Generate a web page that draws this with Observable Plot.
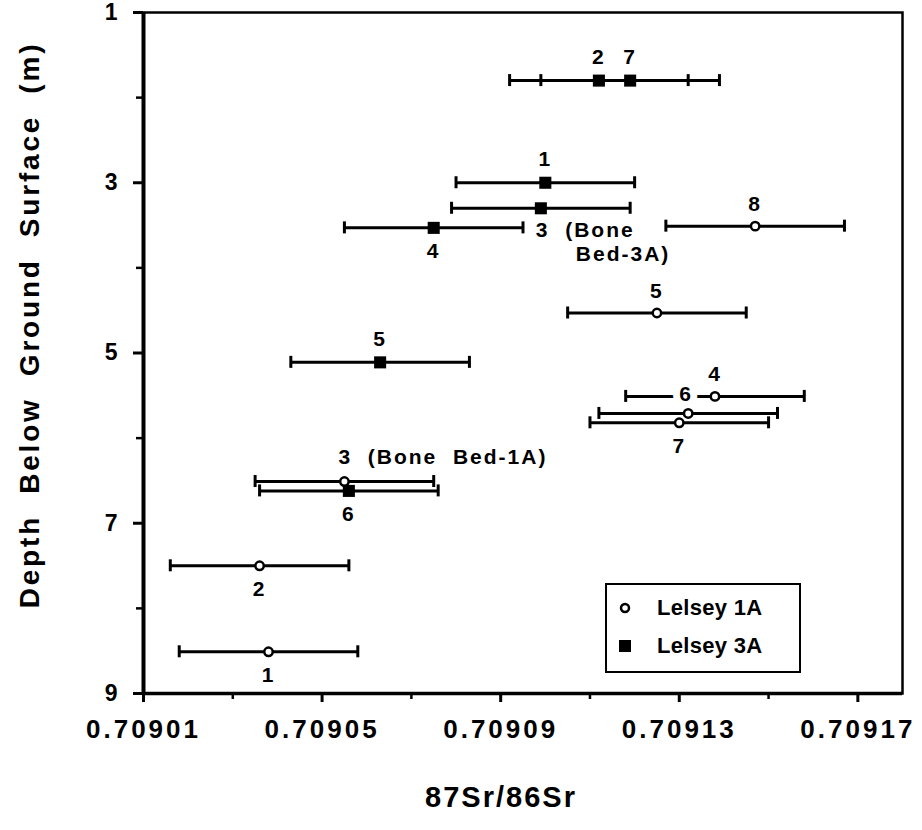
<!DOCTYPE html>
<html>
<head>
<meta charset="utf-8">
<script src="https://cdn.jsdelivr.net/npm/d3@7"></script>
<script src="https://cdn.jsdelivr.net/npm/@observablehq/plot@0.6"></script>
<style>
  html, body { margin: 0; padding: 0; background: #fff; }
  #wrap { position: relative; width: 922px; height: 830px; font-family: "Liberation Sans", Arial, Helvetica, sans-serif; }
  #wrap svg text { white-space: pre; letter-spacing: 2px; }
  #wrap g[aria-label="x-axis tick label"] text { letter-spacing: 3px; }
  #wrap g[aria-label="y-axis tick label"] text { letter-spacing: 0px; }
  #wrap svg text.ytitle { letter-spacing: 2.8px; }
  #legend { position: absolute; left: 605px; top: 583px; width: 192px; height: 86px;
            border: 2.5px solid #000; background: #fff; }
  .leg-row { position: absolute; left: 0; display: flex; align-items: center; font-weight: bold; font-size: 22px; color: #000; letter-spacing: 0.3px; }
  .leg-row svg { margin-left: 10px; margin-right: 24px; }
</style>
</head>
<body>
<div id="wrap"></div>
<script>
// ---- Data ----
const seriesNames = ["Lelsey 1A", "Lelsey 3A"];

// Lelsey 1A (open circles)
const ids1A    = [1, 2, 3, 4, 5, 6, 7, 8];
const depth1A  = [8.51, 7.50, 6.51, 5.51, 4.53, 5.71, 5.82, 3.51];
const ratio1A  = [0.709038, 0.709036, 0.709055, 0.709138, 0.709125, 0.709132, 0.709130, 0.709147];
const err1A    = [0.00002, 0.00002, 0.00002, 0.00002, 0.00002, 0.00002, 0.00002, 0.00002];

// Lelsey 3A (filled squares)
const ids3A    = [1, 2, 3, 4, 5, 6, 7];
const depth3A  = [3.00, 1.80, 3.30, 3.53, 5.11, 6.62, 1.80];
const ratio3A  = [0.709100, 0.709112, 0.709099, 0.709075, 0.709063, 0.709056, 0.709119];
const err3A    = [0.00002, 0.00002, 0.00002, 0.00002, 0.00002, 0.00002, 0.00002];

const xDomain = [0.70901, 0.70918];
const yDomain = [1, 9];
const xTicks  = [0.70901, 0.70905, 0.70909, 0.70913, 0.70917];
const xMinor  = [0.70903, 0.70907, 0.70911, 0.70915];
const yTicks  = [1, 3, 5, 7, 9];
const yMinor  = [2, 4, 6, 8];

const xTitle = "87Sr/86Sr";
const yTitle = "Depth  Below  Ground  Surface  (m)";
const bone1A = "3  (Bone  Bed-1A)";
const bone3Aa = "3  (Bone";
const bone3Ab = "Bed-3A)";

// ---- Build tables ----
const d1A = ids1A.map((id, i) => ({id, depth: depth1A[i], ratio: ratio1A[i], err: err1A[i], site: seriesNames[0]}));
const d3A = ids3A.map((id, i) => ({id, depth: depth3A[i], ratio: ratio3A[i], err: err3A[i], site: seriesNames[1]}));
const all = d1A.concat(d3A);

const lab = {fontSize: 21, fontWeight: "bold", fill: "black"};
const pick = (arr, list) => arr.filter(d => list.includes(d.id));

const chart = Plot.plot({
  width: 922,
  height: 830,
  marginLeft: 143,
  marginRight: 20,
  marginTop: 12,
  marginBottom: 137,
  style: "font-family: 'Liberation Sans', Arial, Helvetica, sans-serif; font-weight: bold; background: white; overflow: visible;",
  x: {domain: xDomain},
  y: {domain: yDomain, reverse: true},
  marks: [
    Plot.frame({stroke: "black", strokeWidth: 2.5}),
    Plot.ruleX([xDomain[0]], {stroke: "black", strokeWidth: 4}),
    Plot.ruleY([yDomain[1]], {stroke: "black", strokeWidth: 3.5}),
    Plot.axisX({ticks: xTicks, tickSize: 9, tickPadding: 17, tickFormat: d3.format(".5f"),
                fontSize: 26, fontWeight: "bold", strokeWidth: 3, label: null}),
    Plot.axisX({ticks: xMinor, tickSize: 6, tickFormat: () => "", strokeWidth: 2.5, label: null}),
    Plot.axisY({ticks: yTicks, tickSize: 10, tickPadding: 16, tickFormat: d3.format("d"),
                fontSize: 23, fontWeight: "bold", strokeWidth: 3, label: null}),
    Plot.axisY({ticks: yMinor, tickSize: 7, tickFormat: () => "", strokeWidth: 2.5, label: null}),

    // error bars
    Plot.ruleY(all, {y: "depth", x1: d => d.ratio - d.err, x2: d => d.ratio + d.err, stroke: "black", strokeWidth: 3}),
    Plot.ruleX(all, {x: d => d.ratio - d.err, y1: "depth", y2: "depth", insetTop: -6, insetBottom: -6, stroke: "black", strokeWidth: 3}),
    Plot.ruleX(all, {x: d => d.ratio + d.err, y1: "depth", y2: "depth", insetTop: -6, insetBottom: -6, stroke: "black", strokeWidth: 3}),

    // labels for Lelsey 1A
    Plot.text(pick(d1A, [4, 5, 8]), {x: "ratio", y: "depth", text: d => String(d.id), dy: -22, ...lab}),
    Plot.text(pick(d1A, [6]), {x: "ratio", y: "depth", text: d => String(d.id), dy: -19, dx: -2,
                               stroke: "white", strokeWidth: 14, paintOrder: "stroke", ...lab}),
    Plot.text(pick(d1A, [1, 2, 7]), {x: "ratio", y: "depth", text: d => String(d.id), dy: 23, ...lab}),
    Plot.text(pick(d1A, [3]), {x: "ratio", y: "depth", text: () => bone1A, dy: -24, dx: -6, textAnchor: "start", ...lab}),

    // labels for Lelsey 3A
    Plot.text(pick(d3A, [1, 2, 5, 7]), {x: "ratio", y: "depth", text: d => String(d.id), dy: -23, ...lab}),
    Plot.text(pick(d3A, [4, 6]), {x: "ratio", y: "depth", text: d => String(d.id), dy: 23, ...lab}),
    Plot.text(pick(d3A, [3]), {x: "ratio", y: "depth", text: () => bone3Aa, dy: 22, dx: -5, textAnchor: "start", ...lab}),
    Plot.text(pick(d3A, [3]), {x: "ratio", y: "depth", text: () => bone3Ab, dy: 46, dx: 35, textAnchor: "start", ...lab}),

    // symbols
    Plot.dot(d1A, {x: "ratio", y: "depth", r: 4.2, fill: "white", stroke: "black", strokeWidth: 2.5}),
    Plot.dot(d3A, {x: "ratio", y: "depth", symbol: "square", r: 6.8, fill: "black", stroke: "none"}),

    // axis titles
    Plot.text([yTitle], {frameAnchor: "left", rotate: -90, dx: -113, dy: -28, textAnchor: "middle", lineAnchor: "middle",
                         fontSize: 28, fontWeight: "bold", fill: "black"}),
    Plot.text([xTitle], {frameAnchor: "bottom", dx: -22, dy: 104, textAnchor: "middle", lineAnchor: "middle",
                         fontSize: 29, fontWeight: "bold", fill: "black"})
  ]
});

const wrap = document.getElementById("wrap");
wrap.appendChild(chart);
// slightly wider letter spacing for the rotated y title
d3.select(chart).selectAll("text").filter(function () { return this.textContent === yTitle; }).classed("ytitle", true);

// legend (HTML overlay, real text)
const legend = document.createElement("div");
legend.id = "legend";
const rows = [
  {name: seriesNames[0], top: 10, sym: '<circle cx="8" cy="8" r="4" fill="white" stroke="black" stroke-width="2.5"/>'},
  {name: seriesNames[1], top: 48, sym: '<rect x="2" y="2" width="12" height="12" fill="black"/>'}
];
rows.forEach(r => {
  const row = document.createElement("div");
  row.className = "leg-row";
  row.style.top = r.top + "px";
  row.innerHTML = `<svg width="16" height="16">${r.sym}</svg><span>${r.name}</span>`;
  legend.appendChild(row);
});
wrap.appendChild(legend);
</script>
</body>
</html>
